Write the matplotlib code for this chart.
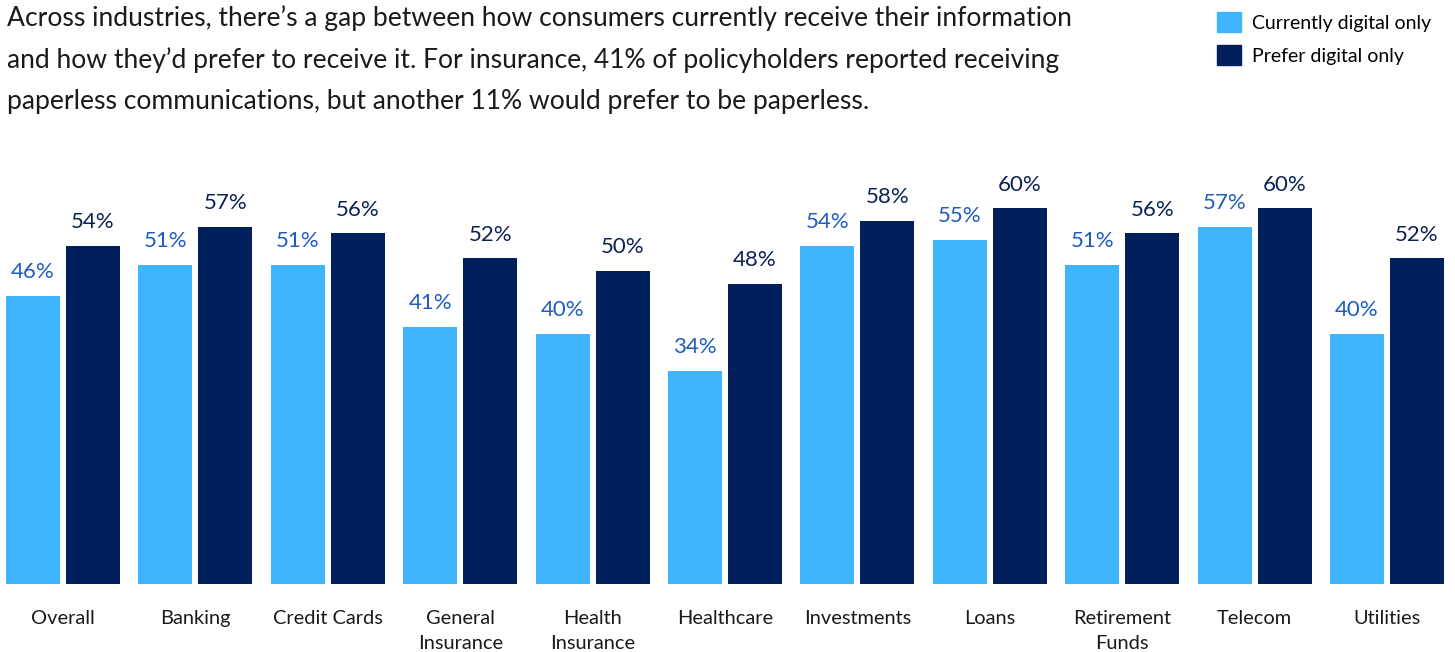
import matplotlib.pyplot as plt
import numpy as np
from matplotlib.patches import Patch

plt.rcParams['font.family'] = ['Lato', 'DejaVu Sans']

categories = ['Overall', 'Banking', 'Credit Cards', 'General\nInsurance', 'Health\nInsurance',
              'Healthcare', 'Investments', 'Loans', 'Retirement\nFunds', 'Telecom', 'Utilities']
current = [46, 51, 51, 41, 40, 34, 54, 55, 51, 57, 40]
prefer = [54, 57, 56, 52, 50, 48, 58, 60, 56, 60, 52]

light = '#40b5ff'
dark = '#001f5b'
light_txt = '#1f5cbf'
dark_txt = '#0b2255'

W, H = 1455, 652
fig = plt.figure(figsize=(W / 100, H / 100), dpi=100)
base = 584
top = 150
ax = fig.add_axes([0, 1 - base / H, 1, (base - top) / H])

pitch = 132.4
x = np.arange(len(categories))
bw = 54 / pitch
off = 30 / pitch
ax.bar(x - off, current, bw, color=light)
ax.bar(x + off, prefer, bw, color=dark)

for i in range(len(categories)):
    ax.annotate(f'{current[i]}%', (x[i] - off, current[i]), xytext=(0, 10), textcoords='offset points',
                ha='center', va='bottom', fontsize=16, color=light_txt)
    ax.annotate(f'{prefer[i]}%', (x[i] + off, prefer[i]), xytext=(0, 10), textcoords='offset points',
                ha='center', va='bottom', fontsize=16, color=dark_txt)
    ax.annotate(categories[i], (x[i], 0), xytext=(0, -19), textcoords='offset points',
                ha='center', va='top', fontsize=14.4, color='#1a1a1a', linespacing=1.55)

ax.set_xlim(-63 / pitch, (W - 63) / pitch)
ax.set_ylim(0, (base - top) / 6.26)
ax.axis('off')

fig.text(7 / W, 1 - 5 / H,
         "Across industries, there\u2019s a gap between how consumers currently receive their information\n"
         "and how they\u2019d prefer to receive it. For insurance, 41% of policyholders reported receiving\n"
         "paperless communications, but another 11% would prefer to be paperless.",
         ha='left', va='top', fontsize=19.1, color='#1a1a1a', linespacing=1.8)

handles = [Patch(color=light, label='Currently digital only'), Patch(color=dark, label='Prefer digital only')]
fig.legend(handles=handles, loc='upper left', bbox_to_anchor=(1211 / W, 1 - 6 / H), frameon=False,
           fontsize=14, handlelength=1.24, handleheight=1.24, handletextpad=0.55, labelspacing=0.65,
           borderaxespad=0, borderpad=0.3)

fig.savefig('out.png', dpi=100)
